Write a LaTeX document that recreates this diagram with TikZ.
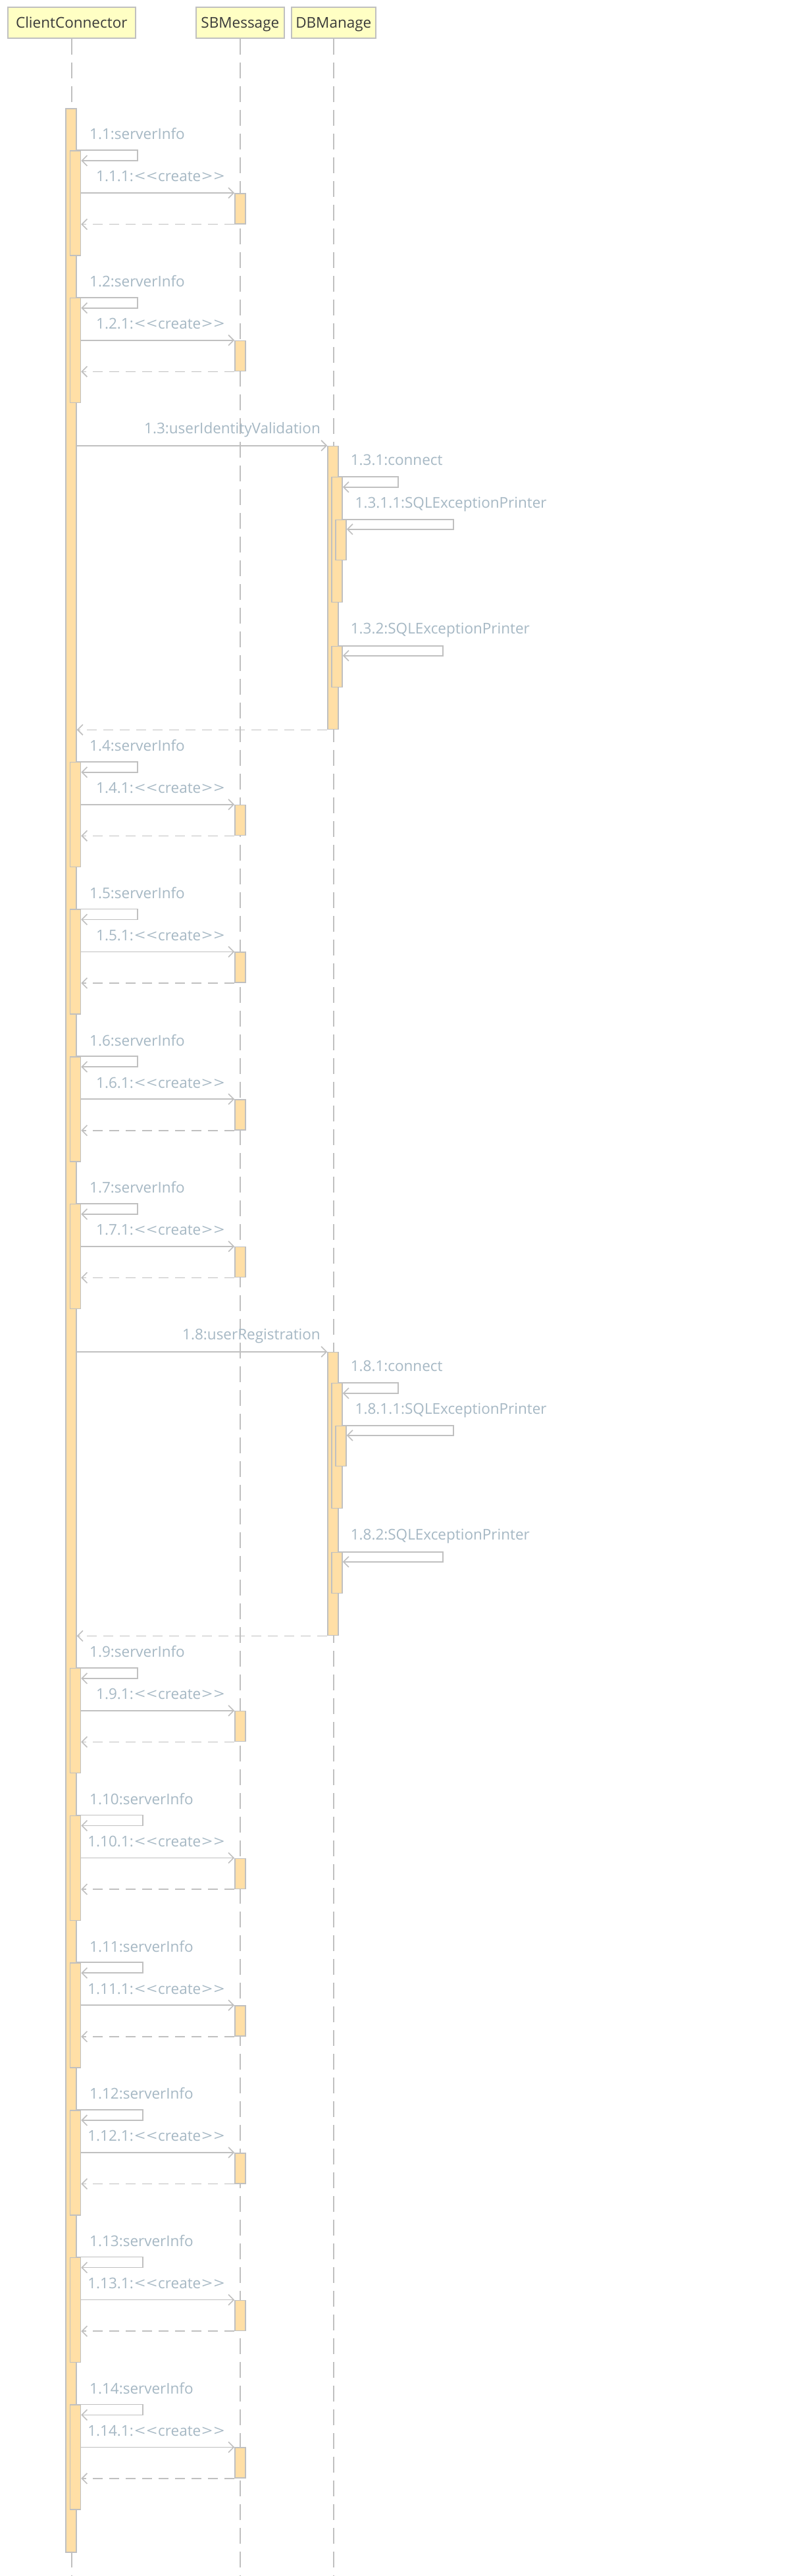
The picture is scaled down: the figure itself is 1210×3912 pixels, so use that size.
\documentclass[tikz,border=0pt]{standalone}
\usepackage{graphicx}
\usepackage{fontspec}
\setmainfont{Open Sans}
\usetikzlibrary{arrows.meta}
\definecolor{lgray}{RGB}{192,192,192}
\definecolor{barfill}{RGB}{255,223,166}
\definecolor{headfill}{RGB}{255,255,196}
\definecolor{headtext}{RGB}{58,58,58}
\definecolor{lblcol}{RGB}{166,184,196}
\newcommand\hfnt{\fontsize{22.5pt}{27pt}\selectfont}
\newcommand\lfnt{\fontsize{22.5pt}{27pt}\selectfont}
\newcommand\wlt{\scalebox{1.3}[1]{<}}
\newcommand\wgt{\scalebox{1.3}[1]{>}}
\newcommand\cre{\kern1.5pt\wlt\kern1.5pt\wlt\kern1pt create\kern1pt\wgt\kern1.5pt\wgt\kern1.5pt}
\begin{document}
\begin{tikzpicture}[x=1pt,y=-1pt,
  head/.style={draw=lgray, fill=headfill, line width=1.6pt, inner sep=0pt, anchor=north west,
    minimum height=47pt, font=\hfnt, text=headtext, text height=17pt, text depth=0pt},
  bar/.style={draw=lgray, fill=barfill, line width=1.6pt, rectangle, inner sep=0pt,
    minimum width=16pt, anchor=north},
  lbl/.style={text=lblcol, font=\lfnt, inner sep=0pt, anchor=base west},
  msg/.style={draw=lgray, line width=1.6pt, -{Straight Barb[length=8pt,width=16pt]}},
  ret/.style={msg, dash pattern=on 15pt off 10pt},
  life/.style={draw=lgray, line width=1.6pt, dash pattern=on 24pt off 12pt}]
\useasboundingbox[fill=white] (0,0) rectangle (1210,3912);

% participants
\node[head, minimum width=194pt] (cc) at (11,10) {ClientConnector};
\node[head, minimum width=134pt] (sb) at (297,10) {SBMessage};
\node[head, minimum width=128pt] (db) at (442,10) {DBManage};

\coordinate (bottom) at (0,3912);
\draw[life] (cc.south) -- (cc.south |- bottom);
\draw[life] (sb.south) -- (sb.south |- bottom);
\draw[life] (db.south) -- (db.south |- bottom);

% main activation of ClientConnector
\node[bar, minimum height=3711pt] (ccmain) at (108,164) {};

% serverInfo blocks
\foreach \n/\T/\R in {1/228/209, 2/451.7/209, 4/1156.7/209, 5/1380.4/209, 6/1604.1/209,
    7/1827.8/209, 9/2532.8/209, 10/2756.5/217, 11/2980.2/217, 12/3203.9/217,
    13/3427.6/217, 14/3651.3/217} {
  \node[bar, minimum height=159pt] (nb\n) at (114.5,\T) {};
  \node[lbl] (ls\n) at (136,\T-16) {1.\n:serverInfo};
  \coordinate (lp\n) at (\R,\T+16);
  \draw[msg] (ccmain.east |- nb\n.north) -| (lp\n) -- (nb\n.east |- lp\n);
  \node[bar, minimum height=46pt] (sb\n) at (365,\T+65) {};
  \node[lbl, anchor=base east] (lc\n) at (343,\T+48) {1.\n.1:\cre};
  \draw[msg] (nb\n.east |- sb\n.north) -- (sb\n.north west);
  \draw[ret] (sb\n.south west) -- (nb\n.east |- sb\n.south);
}

% DBManage blocks
\foreach \n/\A/\lab in {3/676.7/userIdentityValidation, 8/2052.8/userRegistration} {
  \node[bar, minimum height=430pt] (db\n) at (506,\A) {};
  \node[lbl, anchor=base east] (ldb\n) at (487,\A-18) {1.\n:\lab};
  \draw[msg] (ccmain.east |- db\n.north) -- (db\n.north west);
  % connect
  \node[bar, minimum height=190pt] (c\n) at (512,\A+47) {};
  \node[lbl] (lcon\n) at (532.6,\A+30) {1.\n.1:connect};
  \coordinate (pc\n) at (605,\A+63);
  \draw[msg] (db\n.east |- c\n.north) -| (pc\n) -- (c\n.east |- pc\n);
  % nested SQLExceptionPrinter
  \node[bar, minimum height=61pt] (e\n) at (518,\A+112) {};
  \node[lbl] (lsq\n) at (539.5,\A+95) {1.\n.1.1:SQLExceptionPrinter};
  \coordinate (pe\n) at (689,\A+127);
  \draw[msg] (c\n.east |- e\n.north) -| (pe\n) -- (e\n.east |- pe\n);
  % second SQLExceptionPrinter
  \node[bar, minimum height=62pt] (f\n) at (512,\A+304) {};
  \node[lbl] (lsr\n) at (532.6,\A+286) {1.\n.2:SQLExceptionPrinter};
  \coordinate (pf\n) at (673,\A+319);
  \draw[msg] (db\n.east |- f\n.north) -| (pf\n) -- (f\n.east |- pf\n);
  % return
  \draw[ret] (db\n.south west) -- (ccmain.east |- db\n.south);
}
\end{tikzpicture}
\end{document}
